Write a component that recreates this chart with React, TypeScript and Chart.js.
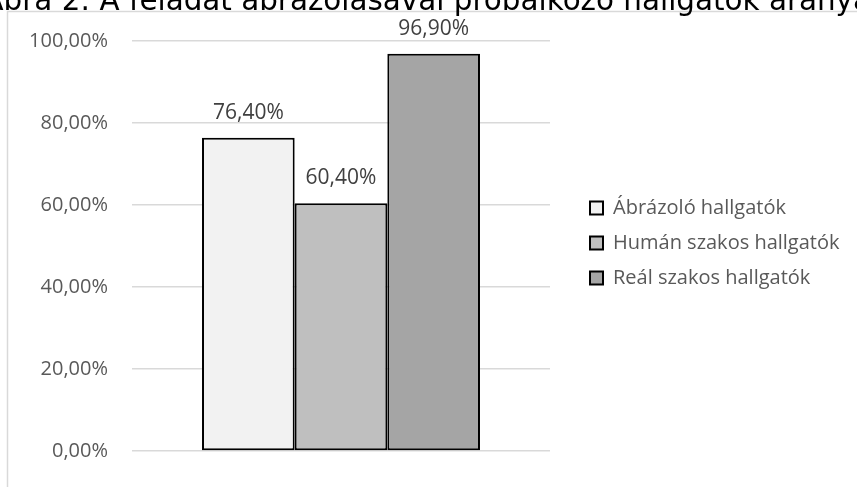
import React, { useEffect, useRef } from "react";
import { Chart, registerables } from "chart.js";

Chart.register(...registerables);

const TITLE = "Ábra 2: A feladat ábrázolásával próbálkozó hallgatók aránya";
const CATEGORIES = [""];
const SERIES_LABELS = ["Ábrázoló hallgatók", "Humán szakos hallgatók", "Reál szakos hallgatók"];
const SERIES_VALUES = [76.4, 60.4, 96.9];
const SERIES_COLORS = ["#f2f2f2", "#bfbfbf", "#a5a5a5"];
const Y_MIN = 0;
const Y_MAX = 100;
const Y_STEP = 20;

const W = 857;
const H = 487;
const FONT = '"Open Sans", "Noto Sans", sans-serif';
const LEGEND_FONT_SIZE = 20;
const LEGEND_PAD = 15;
const LEGEND_BOX = 13;

const fmt = (v: number) => v.toFixed(2).replace(".", ",") + "%";

export default function App() {
  const ref = useRef<HTMLCanvasElement | null>(null);

  useEffect(() => {
    const canvas = ref.current;
    if (!canvas) return;
    const mctx = canvas.getContext("2d")!;
    mctx.font = `${LEGEND_FONT_SIZE}px ${FONT}`;
    let maxText = 0;
    SERIES_LABELS.forEach((l) => {
      maxText = Math.max(maxText, mctx.measureText(l).width);
    });
    const maxItemWidth = LEGEND_BOX + LEGEND_FONT_SIZE / 2 + maxText;
    const legendBoxX = 590;
    const rightPad = Math.max(0, W - legendBoxX - maxItemWidth - 10);

    const framePlugin = {
      id: "frameTitle",
      beforeLayout(chart: any) {
        const lg = chart.legend;
        if (lg && !lg.__wide) {
          const orig = lg.update.bind(lg);
          lg.update = (mw: number, mh: number, m: any) => orig(Math.max(mw, 340), mh, m);
          lg.__wide = true;
        }
      },
      beforeDraw(chart: any) {
        const ctx = chart.ctx;
        ctx.save();
        ctx.fillStyle = "#ffffff";
        ctx.fillRect(0, 0, W, H);
        ctx.strokeStyle = "#d9d9d9";
        ctx.lineWidth = 1.5;
        ctx.beginPath();
        ctx.moveTo(7.5, H);
        ctx.lineTo(7.5, 11.5);
        ctx.lineTo(W, 11.5);
        ctx.stroke();
        ctx.font = '29.4px "DejaVu Sans", sans-serif';
        ctx.fillStyle = "#000000";
        ctx.textBaseline = "alphabetic";
        ctx.textAlign = "left";
        const base = TITLE.slice(0, TITLE.length - 1);
        const w = ctx.measureText(base).width;
        ctx.fillText(TITLE, 853 - w, 10);
        ctx.restore();
      },
    };

    const labelPlugin = {
      id: "valueLabels",
      afterDatasetsDraw(chart: any) {
        const ctx = chart.ctx;
        ctx.save();
        ctx.font = `21px ${FONT}`;
        ctx.fillStyle = "#404040";
        ctx.textAlign = "center";
        ctx.textBaseline = "alphabetic";
        chart.data.datasets.forEach((ds: any, i: number) => {
          const meta = chart.getDatasetMeta(i);
          meta.data.forEach((el: any, j: number) => {
            ctx.fillText(fmt(ds.data[j]), el.x, el.y - 19);
          });
        });
        ctx.restore();
      },
    };

    const chart = new Chart(canvas, {
      type: "bar",
      data: {
        labels: CATEGORIES,
        datasets: SERIES_LABELS.map((label, i) => ({
          label,
          data: [SERIES_VALUES[i]],
          backgroundColor: SERIES_COLORS[i],
          borderColor: "#000000",
          borderWidth: 2,
          borderSkipped: false,
          categoryPercentage: 0.665,
          barPercentage: 1,
        })),
      },
      options: {
        animation: false,
        responsive: false,
        devicePixelRatio: 1,
        layout: { padding: { top: 23, bottom: 24, left: 0, right: rightPad } },
        plugins: {
          legend: {
            position: "right",
            align: "center",
            labels: {
              boxWidth: LEGEND_BOX,
              boxHeight: LEGEND_BOX,
              padding: LEGEND_PAD,
              color: "#595959",
              font: { family: FONT, size: LEGEND_FONT_SIZE },
            },
          },
          tooltip: { enabled: false },
          title: { display: false },
        },
        scales: {
          x: { display: false },
          xTop: {
            type: "category",
            position: "top",
            display: true,
            grid: { display: false, drawTicks: false },
            ticks: { display: false },
            border: { display: false },
            afterFit: (s: any) => {
              s.height = 18;
            },
          },
          y: {
            min: Y_MIN,
            max: Y_MAX,
            ticks: {
              stepSize: Y_STEP,
              padding: 24,
              color: "#595959",
              font: { family: FONT, size: 20 },
              callback: (v: any) => fmt(Number(v)),
            },
            grid: { color: "#d9d9d9", lineWidth: 1.5, drawTicks: false },
            border: { display: false },
            afterFit: (s: any) => {
              s.width = 132;
            },
          },
          yRight: {
            type: "linear",
            position: "right",
            display: true,
            grid: { display: false, drawTicks: false },
            ticks: { display: false },
            border: { display: false },
            afterFit: (s: any) => {
              s.width = legendBoxX - LEGEND_PAD - 550;
            },
          },
        },
      },
      plugins: [framePlugin, labelPlugin],
    } as any);

    return () => chart.destroy();
  }, []);

  return (
    <div style={{ position: "fixed", left: 0, top: 0, width: W, height: H, background: "#fff" }}>
      <canvas ref={ref} width={W} height={H} style={{ display: "block", width: W, height: H }} />
    </div>
  );
}
